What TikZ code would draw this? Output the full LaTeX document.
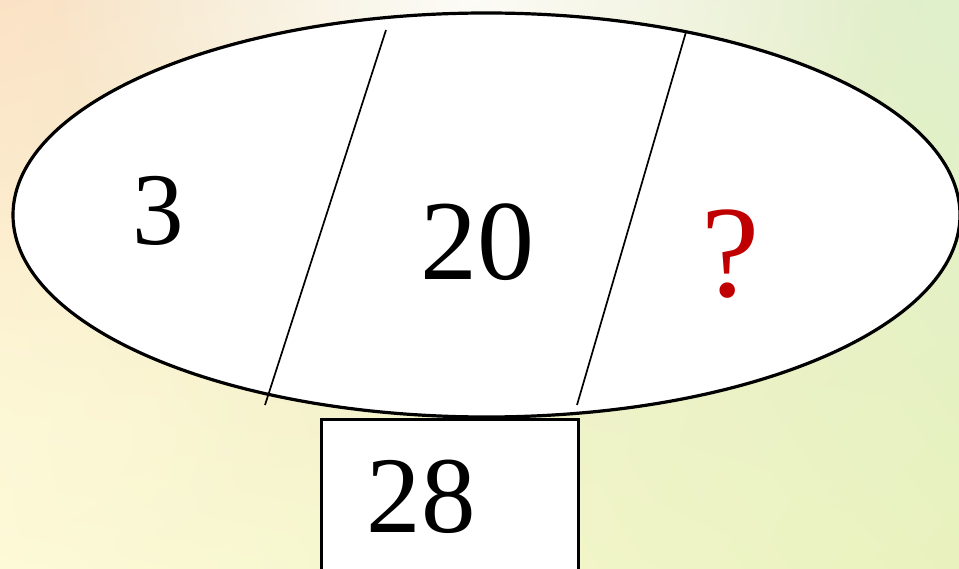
\documentclass[tikz,border=0pt]{standalone}
\usepackage{fontspec}
\setmainfont{Liberation Serif}
\usetikzlibrary{shapes.geometric,shadings,fadings}
\definecolor{bgUL}{HTML}{FBE2C6}
\definecolor{bgUR}{HTML}{DFF0CB}
\definecolor{bgLL}{HTML}{FDFAD8}
\definecolor{bgLR}{HTML}{E9F2BE}
\definecolor{qred}{HTML}{C00000}
\tikzfading[name=glow, inner color=transparent!0, outer color=transparent!100]
\tikzset{
  numtext/.style={inner sep=0pt, anchor=base},
  divider/.style={line width=1.7pt, black},
  outline/.style={draw, line width=3.2pt, fill=white, inner sep=0pt},
}
\begin{document}
\begin{tikzpicture}[x=1pt,y=-1pt]
\useasboundingbox (0,0) rectangle (959,569);
\clip (0,0) rectangle (959,569);
\shade[upper left=bgUL, upper right=bgUR, lower left=bgLL, lower right=bgLR] (0,0) rectangle (959,569);
\fill[white, opacity=0.85, path fading=glow] (470,0) ellipse [x radius=420, y radius=300];
\fill[bgLL, opacity=0.6, path fading=glow] (0,420) ellipse [x radius=300, y radius=260];
\node[ellipse, outline, minimum width=947pt, minimum height=404pt] (oval) at (486.5,215) {};
\coordinate (d1t) at (386,30);
\coordinate (d1b) at (265,405);
\coordinate (d2t) at (686,32);
\coordinate (d2b) at (577,405);
\draw[divider] (d1t) -- (d1b);
\draw[divider] (d2t) -- (d2b);
\node[rectangle, outline, anchor=north west,
      minimum width=257pt, minimum height=200pt] (box) at (320,418) {};
\node[numtext] (n3) at (158,245) {\fontsize{103}{103}\selectfont 3};
\node[numtext] (n20) at (477,280) {\fontsize{114}{114}\selectfont 20};
\node[numtext, text=qred] (nq) at (731,297) {\fontsize{131}{131}\selectfont ?};
\node[numtext] (n28) at (421,532) {\fontsize{109}{109}\selectfont 28};
\end{tikzpicture}
\end{document}
